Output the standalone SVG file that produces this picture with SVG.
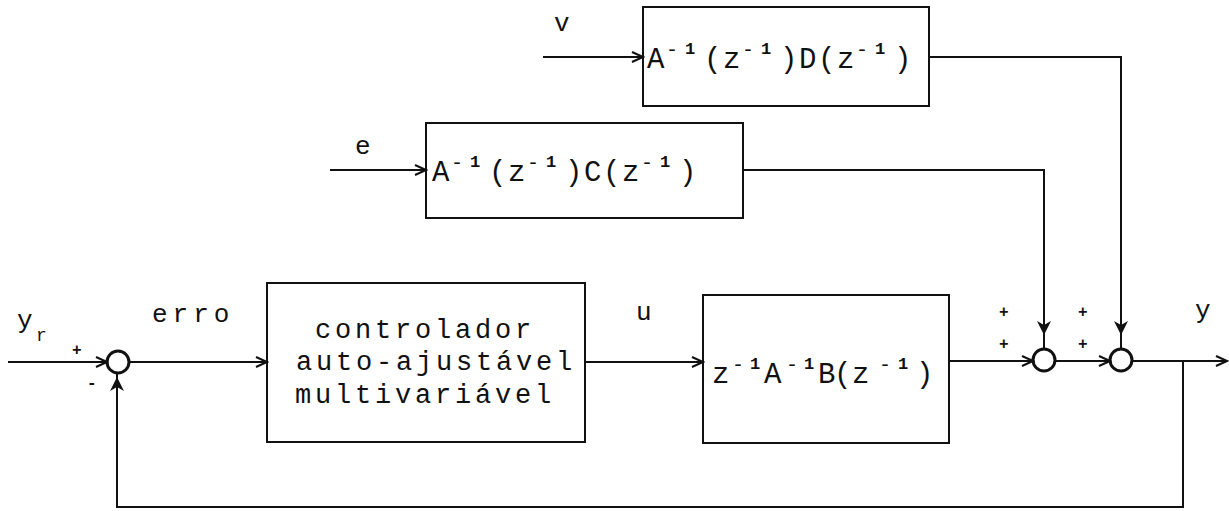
<svg xmlns="http://www.w3.org/2000/svg" width="1229" height="511" viewBox="0 0 1229 511">
<style>
.box{fill:none;stroke:#111;stroke-width:2}
.ln{fill:none;stroke:#111;stroke-width:2}
.sum{fill:none;stroke:#111;stroke-width:3}
.t{font-family:"Liberation Mono",monospace;fill:#111}
.lbl{font-size:26px}
.ctl{font-size:27px;letter-spacing:3.8px}
.f{font-size:29px}
.sup{font-size:20px}
.one{font-size:17px;font-weight:bold}
.sg{font-size:16px;font-weight:bold}
</style>
<defs>
<marker id="open" markerWidth="14" markerHeight="12" refX="12" refY="6" orient="auto" markerUnits="userSpaceOnUse">
<path d="M1,1 L12,6 L1,11" fill="none" stroke="#111" stroke-width="2"/>
</marker>
<marker id="fill" markerWidth="14" markerHeight="16" refX="7" refY="8" orient="auto" markerUnits="userSpaceOnUse">
<path d="M0,1 L14,8 L0,15 L4,8 Z" fill="#111"/>
</marker>
</defs>

<g id="connectors">
<line class="ln" x1="8" y1="362" x2="107" y2="362" marker-end="url(#open)"/>
<line class="ln" x1="129" y1="362" x2="267" y2="362" marker-end="url(#open)"/>
<line class="ln" x1="585" y1="362" x2="703" y2="362" marker-end="url(#open)"/>
<line class="ln" x1="949" y1="361" x2="1033" y2="361" marker-end="url(#open)"/>
<line class="ln" x1="1055" y1="361" x2="1110" y2="361" marker-end="url(#open)"/>
<line class="ln" x1="1132" y1="361" x2="1227" y2="361" marker-end="url(#open)"/>
<line class="ln" x1="543" y1="57" x2="643" y2="57" marker-end="url(#open)"/>
<line class="ln" x1="330" y1="170" x2="426" y2="170" marker-end="url(#open)"/>
<polyline class="ln" points="743,170 1044,170 1044,349"/>
<line class="ln" x1="1044" y1="300" x2="1044" y2="328" marker-end="url(#fill)"/>
<polyline class="ln" points="929,57 1121,57 1121,349"/>
<line class="ln" x1="1121" y1="300" x2="1121" y2="328" marker-end="url(#fill)"/>
<polyline class="ln" points="1183,361 1183,507 117,507 117,374"/>
<line class="ln" x1="117" y1="420" x2="117" y2="384" marker-end="url(#fill)"/>
</g>

<g id="node-D">
<rect class="box" x="643" y="7" width="286" height="99"/>
<text class="t f" y="68"><tspan x="647">A</tspan><tspan class="sup" x="666" y="56">-</tspan><tspan class="one" x="685" y="54">1</tspan><tspan x="704" y="68">(</tspan><tspan x="723">z</tspan><tspan class="sup" x="742" y="56">-</tspan><tspan class="one" x="761" y="54">1</tspan><tspan x="780" y="68">)</tspan><tspan x="799">D</tspan><tspan x="818">(</tspan><tspan x="837">z</tspan><tspan class="sup" x="856" y="56">-</tspan><tspan class="one" x="875" y="54">1</tspan><tspan x="894" y="68">)</tspan></text>
</g>

<g id="node-C">
<rect class="box" x="426" y="123" width="317" height="95"/>
<text class="t f" y="181"><tspan x="432">A</tspan><tspan class="sup" x="451" y="169">-</tspan><tspan class="one" x="470" y="167">1</tspan><tspan x="489" y="181">(</tspan><tspan x="508">z</tspan><tspan class="sup" x="527" y="169">-</tspan><tspan class="one" x="546" y="167">1</tspan><tspan x="565" y="181">)</tspan><tspan x="584">C</tspan><tspan x="603">(</tspan><tspan x="622">z</tspan><tspan class="sup" x="641" y="169">-</tspan><tspan class="one" x="660" y="167">1</tspan><tspan x="679" y="181">)</tspan></text>
</g>

<g id="node-controller">
<rect class="box" x="267" y="283" width="318" height="159"/>
<text class="t ctl" x="315" y="338">controlador</text>
<text class="t ctl" x="296" y="370">auto-ajustável</text>
<text class="t ctl" x="295" y="403">multivariável</text>
</g>

<g id="node-plant">
<rect class="box" x="703" y="295" width="246" height="148"/>
<text class="t f" y="383"><tspan x="712">z</tspan><tspan class="sup" x="732" y="371">-</tspan><tspan class="one" x="750" y="369">1</tspan><tspan x="764" y="383">A</tspan><tspan class="sup" x="786" y="371">-</tspan><tspan class="one" x="804" y="369">1</tspan><tspan x="818" y="383">B</tspan><tspan x="834">(</tspan><tspan x="852">z</tspan><tspan class="sup" x="879" y="371">-</tspan><tspan class="one" x="898" y="369">1</tspan><tspan x="916" y="383">)</tspan></text>
</g>

<g id="sum1">
<circle class="sum" cx="118" cy="362" r="11"/>
<text class="t sg" x="72" y="355">+</text>
<text class="t sg" x="87" y="388">-</text>
</g>
<g id="sum2">
<circle class="sum" cx="1044" cy="360" r="11"/>
<text class="t sg" x="999" y="317">+</text>
<text class="t sg" x="999" y="349">+</text>
</g>
<g id="sum3">
<circle class="sum" cx="1121" cy="360" r="11"/>
<text class="t sg" x="1078" y="317">+</text>
<text class="t sg" x="1078" y="349">+</text>
</g>

<g id="labels">
<text class="t lbl" x="554" y="31">v</text>
<text class="t lbl" x="355" y="154">e</text>
<text class="t lbl" x="17" y="328">y</text>
<text class="t" style="font-size:18px" x="36" y="341">r</text>
<text class="t lbl" x="152" y="322" letter-spacing="5">erro</text>
<text class="t lbl" x="636" y="320">u</text>
<text class="t lbl" x="1195" y="318">y</text>
</g>
</svg>
